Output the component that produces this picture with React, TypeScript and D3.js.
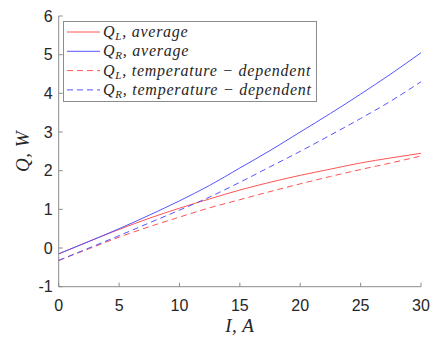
import React from 'react'
import { scaleLinear, line, curveMonotoneX } from 'd3'

const currents = [0, 2.5, 5, 7.5, 10, 12.5, 15, 17.5, 20, 22.5, 25, 27.5, 30]
const qLAverage = [-0.15, 0.17, 0.48, 0.77, 1.03, 1.27, 1.5, 1.7, 1.88, 2.04, 2.2, 2.33, 2.45]
const qRAverage = [-0.15, 0.17, 0.5, 0.85, 1.22, 1.62, 2.07, 2.52, 3.0, 3.48, 3.98, 4.5, 5.05]
const qLTemp = [-0.32, -0.02, 0.28, 0.55, 0.8, 1.04, 1.25, 1.46, 1.66, 1.85, 2.03, 2.2, 2.38]
const qRTemp = [-0.32, 0.0, 0.32, 0.65, 0.98, 1.32, 1.7, 2.1, 2.5, 2.92, 3.35, 3.8, 4.3]

const xTicks = [0, 5, 10, 15, 20, 25, 30]
const yTicks = [-1, 0, 1, 2, 3, 4, 5, 6]

const series = [
    { sub: 'L', name: 'average', values: qLAverage, color: '#ff5555', dashed: false },
    { sub: 'R', name: 'average', values: qRAverage, color: '#5555ff', dashed: false },
    { sub: 'L', name: 'temperature \u2212 dependent', values: qLTemp, color: '#ff5555', dashed: true },
    { sub: 'R', name: 'temperature \u2212 dependent', values: qRTemp, color: '#5555ff', dashed: true },
]

const width = 431
const height = 338
const margin = { left: 58.7, right: 10, top: 16, bottom: 51.3 }

const App = () => {
    const xScale = scaleLinear().domain([0, 30]).range([margin.left, width - margin.right])
    const yScale = scaleLinear().domain([-1, 6]).range([height - margin.bottom, margin.top])

    const lineGen = line<number>()
        .x((d, i) => xScale(currents[i]))
        .y(d => yScale(d))
        .curve(curveMonotoneX)

    const axisColor = '#8c8c8c'
    const labelColor = '#262626'
    const y0 = yScale(-1)
    const x0 = xScale(0)

    return (
        <svg width={width} height={height} style={{ position: 'absolute', left: 0, top: 0, background: '#fff' }}
            fontFamily="'Liberation Sans', Arial, sans-serif">
            {/* axes */}
            <line x1={x0} x2={xScale(30)} y1={y0} y2={y0} stroke={axisColor} />
            <line x1={x0} x2={x0} y1={yScale(6)} y2={y0} stroke={axisColor} />
            {xTicks.map(t => (
                <g key={'x' + t}>
                    <line x1={xScale(t)} x2={xScale(t)} y1={y0} y2={y0 - 4} stroke={axisColor} />
                    <text x={xScale(t)} y={y0 + 24} textAnchor="middle" fontSize={16} fill={labelColor}>{t}</text>
                </g>
            ))}
            {yTicks.map(t => (
                <g key={'y' + t}>
                    <line x1={x0} x2={x0 + 4} y1={yScale(t)} y2={yScale(t)} stroke={axisColor} />
                    <text x={x0 - 6} y={yScale(t) + 5.5} textAnchor="end" fontSize={16} fill={labelColor}>{t}</text>
                </g>
            ))}

            {/* lines */}
            {series.map((s, i) => (
                <path key={i} d={lineGen(s.values) || ''} fill="none" stroke={s.color}
                    strokeWidth={1} strokeDasharray={s.dashed ? '6,4' : undefined} />
            ))}

            {/* axis titles */}
            <text x={(xScale(0) + xScale(30)) / 2} y={332} textAnchor="middle" fontSize={19}
                fontFamily="'Liberation Serif', serif" fontStyle="italic" fill={labelColor} letterSpacing={0.5}>
                I, A
            </text>
            <text transform={`translate(29, ${yScale(2.5)}) rotate(-90)`} textAnchor="middle" fontSize={19}
                fontFamily="'Liberation Serif', serif" fontStyle="italic" fill={labelColor} letterSpacing={0.5}>
                Q, W
            </text>

            {/* legend */}
            <rect x={63.5} y={21.5} width={253} height={80} fill="#fff" stroke={axisColor} />
            {series.map((s, i) => {
                const ly = 32 + i * 19.3
                return (
                    <g key={'lg' + i}>
                        <line x1={67} x2={100} y1={ly} y2={ly} stroke={s.color}
                            strokeDasharray={s.dashed ? '6,4' : undefined} />
                        <text x={103} y={ly + 5} fontSize={16} fontFamily="'Liberation Serif', serif"
                            fontStyle="italic" fill={labelColor} letterSpacing={0.75}>
                            Q<tspan fontSize={11} dy={3}>{s.sub}</tspan><tspan dy={-3}>, {s.name}</tspan>
                        </text>
                    </g>
                )
            })}
        </svg>
    )
}

export default App
